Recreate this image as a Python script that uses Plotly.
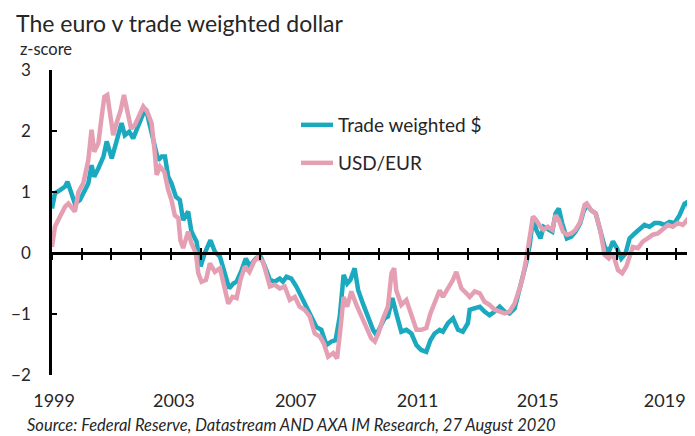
import plotly.graph_objects as go

# ---------------- data ----------------
tw_years = [
    1999.00, 1999.10, 1999.27, 1999.44, 1999.52, 1999.61, 1999.77, 1999.94,
    2000.05, 2000.22, 2000.33, 2000.42, 2000.56, 2000.73, 2000.84, 2001.01,
    2001.17, 2001.34, 2001.45, 2001.60, 2001.73, 2001.90, 2002.07, 2002.18,
    2002.29, 2002.46, 2002.57, 2002.69, 2002.80, 2002.91, 2003.02, 2003.17,
    2003.30, 2003.41, 2003.58, 2003.69, 2003.86, 2004.00, 2004.14, 2004.33,
    2004.48, 2004.65, 2004.82, 2004.96, 2005.10, 2005.21, 2005.38, 2005.52,
    2005.66, 2005.82, 2005.99, 2006.10,
    2006.16, 2006.33, 2006.49, 2006.66, 2006.77, 2006.89, 2007.05, 2007.22,
    2007.39, 2007.56, 2007.73, 2007.89, 2008.06, 2008.23, 2008.40, 2008.54,
    2008.68, 2008.81, 2008.93, 2009.04, 2009.18, 2009.30, 2009.46, 2009.63,
    2009.80, 2009.91, 2010.02, 2010.19, 2010.30, 2010.45, 2010.58, 2010.75,
    2010.92, 2011.09, 2011.26, 2011.42, 2011.59, 2011.73, 2011.87, 2012.04,
    2012.15, 2012.32, 2012.49, 2012.66, 2012.82, 2012.99,
    2013.05, 2013.22, 2013.39, 2013.55, 2013.72, 2013.89, 2014.06, 2014.23,
    2014.39, 2014.56, 2014.73, 2014.84, 2014.95, 2015.07, 2015.18, 2015.29,
    2015.43, 2015.54, 2015.68, 2015.83, 2015.94, 2016.05, 2016.16, 2016.32,
    2016.47, 2016.61, 2016.77, 2016.88, 2016.99, 2017.14, 2017.29, 2017.44,
    2017.59, 2017.73, 2017.87, 2018.00, 2018.15, 2018.29, 2018.43, 2018.60,
    2018.76, 2018.93, 2019.10, 2019.27, 2019.44, 2019.60, 2019.77, 2019.94,
    2020.11, 2020.28, 2020.39, 2020.50, 2020.61,
]
tw_values = [
    0.73, 0.98, 1.03, 1.09, 1.17, 1.03, 0.81, 0.87,
    0.98, 1.14, 1.44, 1.25, 1.39, 1.58, 1.83, 1.55,
    1.83, 2.13, 1.93, 1.99, 1.88, 2.07, 2.29, 2.32,
    2.07, 1.74, 1.52, 1.58, 1.58, 1.25, 1.14, 0.92,
    0.87, 0.54, 0.68, 0.35, 0.19, -0.22, 0.00, 0.21,
    0.02, -0.06, -0.33, -0.58, -0.50, -0.47, -0.28, -0.09,
    -0.22, -0.11, -0.03, -0.14,
    -0.22, -0.44, -0.47, -0.42, -0.47, -0.39, -0.42, -0.55,
    -0.72, -0.88, -1.07, -1.21, -1.26, -1.51, -1.45, -1.43,
    -1.04, -0.36, -0.50, -0.44, -0.25, -0.61, -0.83, -1.04,
    -1.26, -1.34, -1.23, -1.07, -1.04, -0.74, -0.99, -1.29,
    -1.26, -1.32, -1.51, -1.59, -1.62, -1.43, -1.32, -1.26,
    -1.29, -1.15, -1.07, -1.26, -1.29, -1.15,
    -0.93, -0.91, -0.88, -0.96, -1.02, -0.96, -0.88, -0.96,
    -0.99, -0.91, -0.61, -0.39, -0.17, 0.13, 0.57, 0.38,
    0.24, 0.43, 0.40, 0.35, 0.65, 0.73, 0.49, 0.24,
    0.27, 0.35, 0.49, 0.68, 0.79, 0.70, 0.65, 0.38,
    0.10, 0.02, 0.19, 0.08, -0.09, -0.01, 0.24, 0.32,
    0.38, 0.46, 0.43, 0.49, 0.49, 0.46, 0.51, 0.49,
    0.62, 0.81, 0.84, 0.60, 0.32,
]

eur_years = [
    1999.00, 1999.10, 1999.27, 1999.44, 1999.55, 1999.66, 1999.77, 1999.89,
    2000.05, 2000.22, 2000.33, 2000.42, 2000.56, 2000.67, 2000.76, 2000.86,
    2000.95, 2001.06, 2001.17, 2001.31, 2001.42, 2001.53, 2001.66, 2001.79,
    2001.90, 2002.07, 2002.20, 2002.35, 2002.46, 2002.52, 2002.63, 2002.78,
    2002.91, 2003.02, 2003.13, 2003.25, 2003.32, 2003.41, 2003.58, 2003.69,
    2003.84, 2003.92, 2004.03, 2004.18, 2004.31, 2004.48, 2004.65, 2004.79,
    2004.93, 2005.07, 2005.21, 2005.34, 2005.49, 2005.64, 2005.80, 2005.94,
    2006.10,
    2006.16, 2006.33, 2006.49, 2006.66, 2006.83, 2007.00, 2007.17, 2007.33,
    2007.50, 2007.67, 2007.84, 2008.01, 2008.14, 2008.29, 2008.46, 2008.59,
    2008.70, 2008.81, 2008.93, 2009.07, 2009.24, 2009.41, 2009.58, 2009.74,
    2009.86, 2010.00, 2010.14, 2010.30, 2010.42, 2010.51, 2010.58, 2010.75,
    2010.92, 2011.09, 2011.26, 2011.42, 2011.59, 2011.73, 2011.87, 2012.04,
    2012.15, 2012.32, 2012.49, 2012.60, 2012.77, 2012.94,
    2013.05, 2013.22, 2013.39, 2013.55, 2013.72, 2013.89, 2014.06, 2014.23,
    2014.39, 2014.56, 2014.73, 2014.84, 2014.95, 2015.07, 2015.18, 2015.29,
    2015.43, 2015.54, 2015.68, 2015.83, 2015.94, 2016.05, 2016.19, 2016.32,
    2016.47, 2016.61, 2016.77, 2016.92, 2016.99, 2017.14, 2017.29, 2017.44,
    2017.59, 2017.73, 2017.87, 2018.04, 2018.18, 2018.32, 2018.43, 2018.54,
    2018.71, 2018.88, 2019.04, 2019.21, 2019.38, 2019.55, 2019.72, 2019.88,
    2020.05, 2020.22, 2020.36, 2020.45, 2020.54, 2020.61,
]
eur_values = [
    0.10, 0.43, 0.60, 0.76, 0.81, 0.73, 0.68, 1.00,
    1.14, 1.52, 2.02, 1.66, 1.80, 2.23, 2.56, 2.59,
    2.23, 1.93, 2.13, 2.34, 2.59, 2.34, 2.04, 2.10,
    2.23, 2.40, 2.32, 2.13, 1.63, 1.28, 1.42, 1.33,
    1.03, 0.87, 0.62, 0.57, 0.21, 0.08, 0.35, 0.16,
    0.00, -0.33, -0.47, -0.44, -0.17, -0.31, -0.25, -0.55,
    -0.83, -0.72, -0.74, -0.44, -0.22, -0.31, -0.14, -0.06,
    -0.15,
    -0.25, -0.55, -0.52, -0.58, -0.55, -0.77, -0.72, -0.88,
    -0.93, -1.04, -1.32, -1.37, -1.48, -1.70, -1.64, -1.73,
    -1.26, -0.72, -0.88, -0.63, -0.85, -1.04, -1.21, -1.40,
    -1.45, -1.29, -1.07, -0.88, -0.33, -0.25, -0.61, -0.85,
    -0.77, -1.04, -1.26, -1.26, -1.23, -0.99, -0.80, -0.61,
    -0.72, -0.58, -0.44, -0.31, -0.58, -0.66,
    -0.72, -0.63, -0.66, -0.80, -0.85, -0.93, -0.96, -0.99,
    -0.96, -0.83, -0.58, -0.39, -0.11, 0.27, 0.60, 0.54,
    0.43, 0.38, 0.43, 0.38, 0.62, 0.54, 0.35, 0.30,
    0.32, 0.38, 0.51, 0.79, 0.81, 0.70, 0.65, 0.38,
    -0.03, -0.09, -0.01, -0.28, -0.33, -0.22, -0.03, 0.10,
    0.08, 0.19, 0.24, 0.30, 0.32, 0.38, 0.46, 0.43,
    0.49, 0.46, 0.54, 0.46, 0.10, -0.06,
]

series_names = ["Trade weighted $", "USD/EUR"]
tick_years = list(range(1999, 2021))
label_years = ["1999", "2003", "2007", "2011", "2015", "2019"]
y_ticks = [-2, -1, 0, 1, 2, 3]

# ---------------- layout constants ----------------
OFF = 8                      # page body margin added by the browser
VW, VH = 695, 436            # visible window
W, H = VW - OFF, VH - OFF    # figure size so it ends at the window edge
PLOT_L, PLOT_R, PLOT_T, PLOT_B = 52, 695, 70, 375   # plot box in window pixels
ML, MR = PLOT_L - OFF, VW - PLOT_R
MT, MB = PLOT_T - OFF, VH - PLOT_B
X_RANGE = [1999, 2020.63]
Y_RANGE = [-2, 3]
LABEL_SHIFT = [0.07, 0.10, 0.20, 0.30, 0.34, 0.61]  # label offsets (years) seen in picture
label_pos = [int(y) + s for y, s in zip(label_years, LABEL_SHIFT)]

TEAL = "#1AA9BF"
PINK = "#E59FB3"
FONT = "Lato"
TXT = "#262626"

zero_pos = (0 - Y_RANGE[0]) / (Y_RANGE[1] - Y_RANGE[0])
plot_w = PLOT_R - PLOT_L
plot_h = PLOT_B - PLOT_T


def px_x(px):
    """window pixel x -> paper fraction"""
    return (px - PLOT_L) / plot_w


def px_y(py):
    """window pixel y -> paper fraction"""
    return (PLOT_B - py) / plot_h


fig = go.Figure()
fig.add_trace(go.Scatter(
    x=tw_years, y=tw_values, mode="lines", name=series_names[0],
    line=dict(color=TEAL, width=4.5), legend="legend"))
fig.add_trace(go.Scatter(
    x=eur_years, y=eur_values, mode="lines", name=series_names[1],
    line=dict(color=PINK, width=4.5), legend="legend2"))
# empty helper traces so the extra overlay axes (tick marks / labels) get drawn
for ax in ("x2", "x3"):
    fig.add_trace(go.Scatter(x=[], y=[], xaxis=ax, yaxis="y", showlegend=False,
                             hoverinfo="skip"))

common_x = dict(range=X_RANGE, showgrid=False, zeroline=False, fixedrange=True,
                automargin=False)

fig.update_layout(
    width=W, height=H,
    margin=dict(l=ML, r=MR, t=MT, b=MB, pad=0, autoexpand=False),
    paper_bgcolor="white", plot_bgcolor="white",
    font=dict(family=FONT, color=TXT, size=17),
    showlegend=True,
    xaxis=dict(
        **common_x, anchor="free", position=zero_pos,
        showline=True, linecolor="black", linewidth=2.5,
        tickmode="array", tickvals=tick_years, ticks="outside",
        ticklen=5, tickwidth=2, tickcolor="black", showticklabels=False,
    ),
    xaxis2=dict(
        **common_x, overlaying="x", anchor="free", position=zero_pos,
        side="bottom", showline=False, tickmode="array", tickvals=tick_years,
        ticks="inside", ticklen=5, tickwidth=2, tickcolor="black",
        showticklabels=False,
    ),
    xaxis3=dict(
        **common_x, overlaying="x", anchor="y", side="bottom",
        showline=False, tickmode="array", tickvals=label_pos,
        ticktext=label_years, ticks="", ticklabelstandoff=13,
        tickfont=dict(size=18, color=TXT),
    ),
    yaxis=dict(
        range=Y_RANGE, showgrid=False, zeroline=False, fixedrange=True,
        automargin=False,
        showline=True, linecolor="black", linewidth=2.5,
        tickmode="array", tickvals=y_ticks, ticks="inside",
        ticklen=5, tickwidth=2, tickcolor="black",
        ticklabelstandoff=15, tickfont=dict(size=17, color=TXT),
    ),
    legend=dict(
        x=px_x(296), y=px_y(106), xanchor="left", yanchor="top",
        bgcolor="rgba(0,0,0,0)", borderwidth=0, itemwidth=32,
        font=dict(size=19, color=TXT),
    ),
    legend2=dict(
        x=px_x(296), y=px_y(144), xanchor="left", yanchor="top",
        bgcolor="rgba(0,0,0,0)", borderwidth=0, itemwidth=32,
        font=dict(size=19, color=TXT),
    ),
    title=dict(
        text="The euro v trade weighted dollar",
        x=(16 - OFF) / W, xref="container", xanchor="left",
        y=1 - (24 - OFF) / H, yref="container", yanchor="middle",
        font=dict(size=23, color=TXT, family=FONT),
    ),
    annotations=[
        dict(text="z-score", xref="paper", yref="paper",
             x=px_x(18), y=px_y(49), xanchor="left", yanchor="middle",
             showarrow=False, font=dict(size=16.5, color=TXT)),
        dict(text="<i>Source: Federal Reserve, Datastream AND AXA IM Research, 27 August 2020</i>",
             xref="paper", yref="paper",
             x=px_x(25), y=px_y(425), xanchor="left", yanchor="middle",
             showarrow=False, font=dict(size=16.5, color=TXT)),
    ],
)

fig.write_html("out.html")
